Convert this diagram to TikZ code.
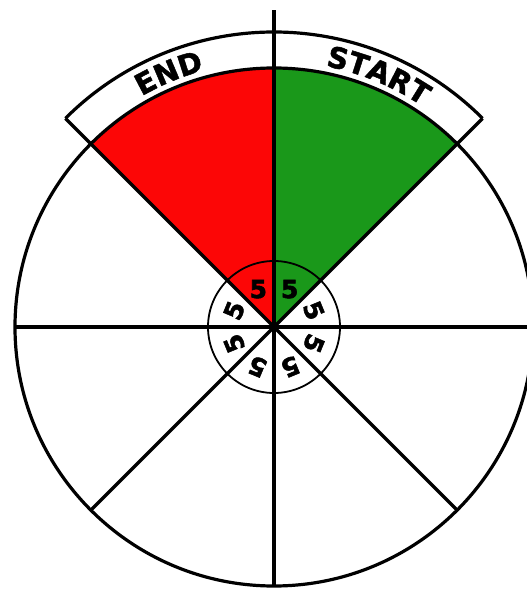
\documentclass[tikz,border=0pt]{standalone}
\usepackage{fontspec}
\newfontfamily\dialfont[BoldFeatures={FakeBold=1.6}]{DejaVu Sans}
\newfontfamily\digitfont[BoldFeatures={FakeBold=2.2}]{DejaVu Sans}
\usetikzlibrary{decorations.text}
\definecolor{endred}{RGB}{252,6,6}
\definecolor{startgreen}{RGB}{26,152,26}

\begin{document}
\begin{tikzpicture}[x=1pt,y=1pt]
\tikzstyle{every node}=[inner sep=0pt];
\tikzstyle{rim}=[line width=3.2pt];
\tikzstyle{hub}=[line width=1.8pt];
\tikzstyle{digit}=[font=\fontsize{25}{25}\digitfont\bfseries];

\useasboundingbox (-274,-262) rectangle (253,327);

\coordinate (o) at (0,0);
\coordinate (n) at (90:317);
\coordinate (s) at (270:259);
\coordinate (w) at (180:259);
\coordinate (e) at (0:300);
\coordinate (ne) at (45:295);
\coordinate (nw) at (135:295);
\coordinate (se) at (315:259);
\coordinate (sw) at (225:259);

% coloured sectors
\fill[endred] (o) -- (90:259) arc[start angle=90,end angle=135,radius=259] -- cycle;
\fill[startgreen] (o) -- (45:259) arc[start angle=45,end angle=90,radius=259] -- cycle;

% rim and label band
\draw[rim] (o) circle[radius=259];
\draw[rim] (nw) arc[start angle=135,end angle=45,radius=295];

\draw[rim] (o) -- (n);
\draw[rim] (o) -- (s);
\draw[rim] (o) -- (w);
\draw[rim] (o) -- (e);
\draw[rim] (o) -- (ne);
\draw[rim] (o) -- (nw);
\draw[rim] (o) -- (se);
\draw[rim] (o) -- (sw);

% hub
\draw[hub] (o) circle[radius=66];

\node[digit] (d1) at (112.5:41) {5};
\node[digit] (d2) at (67.5:41) {5};
\node[digit, rotate=-67.5] (d3) at (22.5:43) {5};
\node[digit, rotate=-112.5] (d4) at (-22.5:43) {5};
\node[digit, rotate=-157.5] (d5) at (-67.5:43) {5};
\node[digit, rotate=157.5] (d6) at (-112.5:43) {5};
\node[digit, rotate=112.5] (d7) at (-157.5:43) {5};
\node[digit, rotate=67.5] (d8) at (157.5:43) {5};

% band labels
\path[decorate, decoration={text along path, text align=center,
  text={|\fontsize{29}{29}\dialfont\bfseries|END}}]
  (135:266) arc[start angle=135,end angle=90,radius=266];
\path[decorate, decoration={text along path, text align=center,
  text={|\fontsize{29}{29}\dialfont\bfseries|START}}]
  (90:266) arc[start angle=90,end angle=45,radius=266];

\end{tikzpicture}
\end{document}
